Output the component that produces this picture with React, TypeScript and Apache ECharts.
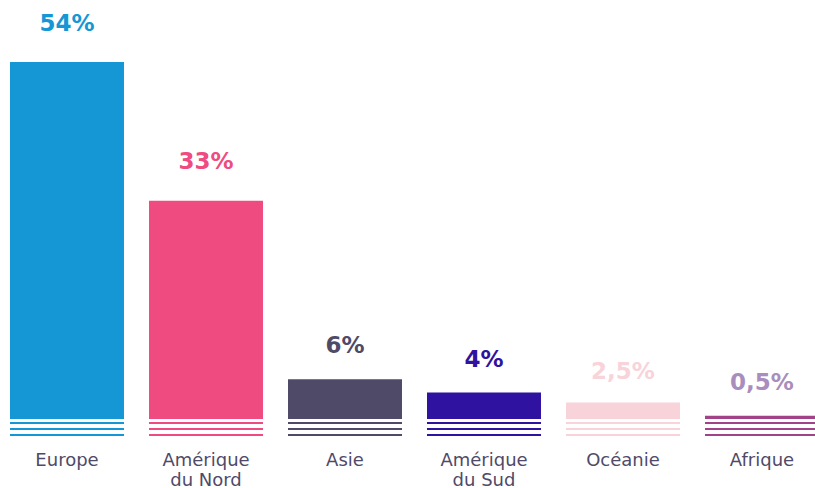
import React, { useEffect, useRef } from "react";
import * as echarts from "echarts";

const categories = ["Europe", "Amérique\ndu Nord", "Asie", "Amérique\ndu Sud", "Océanie", "Afrique"];
const values = [54, 33, 6, 4, 2.5, 0.5];
const barColors = ["#1597d5", "#ef4b80", "#4f4a68", "#2f12a0", "#f9d3da", "#a2438a"];
const labelColors = ["#1597d5", "#ef4b80", "#4f4a68", "#2f12a0", "#f9d3da", "#a98dbd"];
const labelDistances = [28, 28, 23, 22, 20, 22];

const FONT = "DejaVu Sans";

export default function App() {
  const ref = useRef<HTMLDivElement>(null);
  useEffect(() => {
    if (!ref.current) return;
    const chart = echarts.init(ref.current, undefined, { renderer: "svg" });
    const stripeOffsets = [3, 9, 15];
    chart.setOption({
      animation: false,
      grid: { left: -2.5, right: -16.5, top: 62, bottom: 69, containLabel: false, outerBoundsMode: "none" },
      xAxis: {
        type: "category",
        data: categories,
        axisLine: { show: false },
        axisTick: { show: false },
        axisLabel: {
          margin: 30,
          color: "#4f4a68",
          fontFamily: FONT,
          fontSize: 18,
          lineHeight: 20,
          verticalAlign: "top",
          interval: 0,
        },
      },
      yAxis: { type: "value", min: 0, max: 54, show: false, splitLine: { show: false } },
      series: [
        {
          type: "bar",
          barCategoryGap: "18%",
          data: values.map((v, i) => ({
            value: v,
            itemStyle: { color: barColors[i] },
            label: {
              show: true,
              position: "top",
              distance: labelDistances[i],
              color: labelColors[i],
              fontFamily: FONT,
              fontWeight: "bold",
              fontSize: 23,
              formatter: () => String(v).replace(".", ",") + "%",
            },
          })),
        },
        {
          type: "custom",
          clip: false,
          silent: true,
          data: values.map((v, i) => [i, 0]),
          renderItem: (params: any, api: any) => {
            const i = api.value(0);
            const p = api.coord([i, 0]);
            const bw = api.size([1, 0])[0] * 0.82;
            return {
              type: "group",
              children: stripeOffsets.map((o) => ({
                type: "rect",
                shape: { x: p[0] - bw / 2, y: p[1] + o, width: bw, height: 2 },
                style: { fill: barColors[i] },
              })),
            };
          },
        },
      ],
    });
    return () => chart.dispose();
  }, []);
  return (
    <div
      ref={ref}
      style={{ position: "absolute", left: 0, top: 0, width: 815, height: 488 }}
    />
  );
}
